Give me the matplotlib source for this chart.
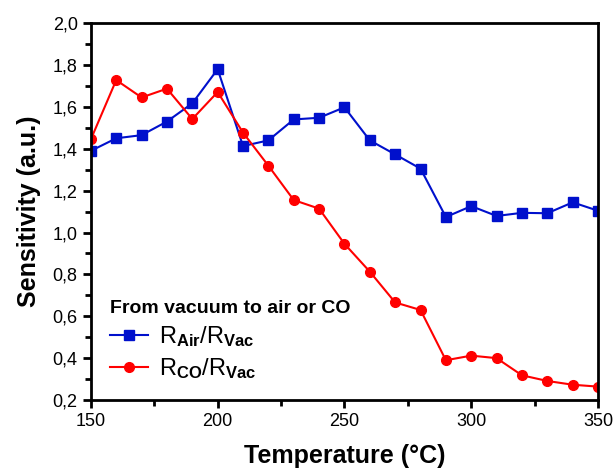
import matplotlib
matplotlib.use('Agg')
import matplotlib.pyplot as plt
from matplotlib.ticker import MultipleLocator, FuncFormatter

plt.rcParams['font.family'] = ['Liberation Sans', 'DejaVu Sans']
plt.rcParams['mathtext.fontset'] = 'custom'
plt.rcParams['mathtext.rm'] = 'Liberation Sans'
plt.rcParams['mathtext.it'] = 'Liberation Sans'
plt.rcParams['mathtext.bf'] = 'Liberation Sans:bold'

temperature = [150, 160, 170, 180, 190, 200, 210, 220, 230, 240, 250,
               260, 270, 280, 290, 300, 310, 320, 330, 340, 350]
air_vac = [1.39, 1.45, 1.465, 1.53, 1.617, 1.78, 1.413, 1.44, 1.54, 1.548, 1.598,
           1.44, 1.373, 1.305, 1.074, 1.126, 1.079, 1.094, 1.092, 1.144, 1.104]
co_vac = [1.445, 1.728, 1.645, 1.687, 1.542, 1.671, 1.477, 1.319, 1.155, 1.114, 0.946,
          0.813, 0.666, 0.63, 0.39, 0.412, 0.40, 0.318, 0.291, 0.273, 0.264]

fig = plt.figure(figsize=(6.14, 4.72), dpi=100)
ax = fig.add_axes([0.148, 0.1525, 0.826, 0.7985])

ax.plot(temperature, air_vac, '-s', color='#0010CC', lw=1.5, ms=6.5,
        mec='#0010CC', label=r'R$_{\mathbf{Air}}$/R$_{\mathbf{Vac}}$')
ax.plot(temperature, co_vac, '-o', color='#FF0000', lw=1.5, ms=7,
        mec='#FF0000', label=r'R$_{\mathbf{CO}}$/R$_{\mathbf{Vac}}$')

ax.set_xlim(150, 350)
ax.set_ylim(0.2, 2.0)
ax.xaxis.set_major_locator(MultipleLocator(50))
ax.xaxis.set_minor_locator(MultipleLocator(25))
ax.yaxis.set_major_locator(MultipleLocator(0.2))
ax.yaxis.set_minor_locator(MultipleLocator(0.1))
ax.yaxis.set_major_formatter(FuncFormatter(lambda v, p: ('%.1f' % v).replace('.', ',')))

ax.tick_params(which='both', direction='out', top=False, right=False,
               labelsize=13, width=2)
ax.tick_params(which='major', length=6)
ax.tick_params(which='minor', length=4)
for s in ax.spines.values():
    s.set_linewidth(2)

ax.set_xlabel('Temperature (°C)', fontsize=18, fontweight='bold', labelpad=10)
ax.set_ylabel('Sensitivity (a.u.)', fontsize=18, fontweight='bold', labelpad=8)

leg = ax.legend(title='From vacuum to air or CO', loc='lower left',
                frameon=False, fontsize=17, handlelength=1.6,
                bbox_to_anchor=(0.0, 0.0), borderaxespad=0.4,
                labelspacing=0.3, handletextpad=0.5)
leg.get_title().set_fontweight('bold')
leg.get_title().set_fontsize(14)
leg._legend_box.align = 'left'

fig.savefig('out.png', dpi=100)
